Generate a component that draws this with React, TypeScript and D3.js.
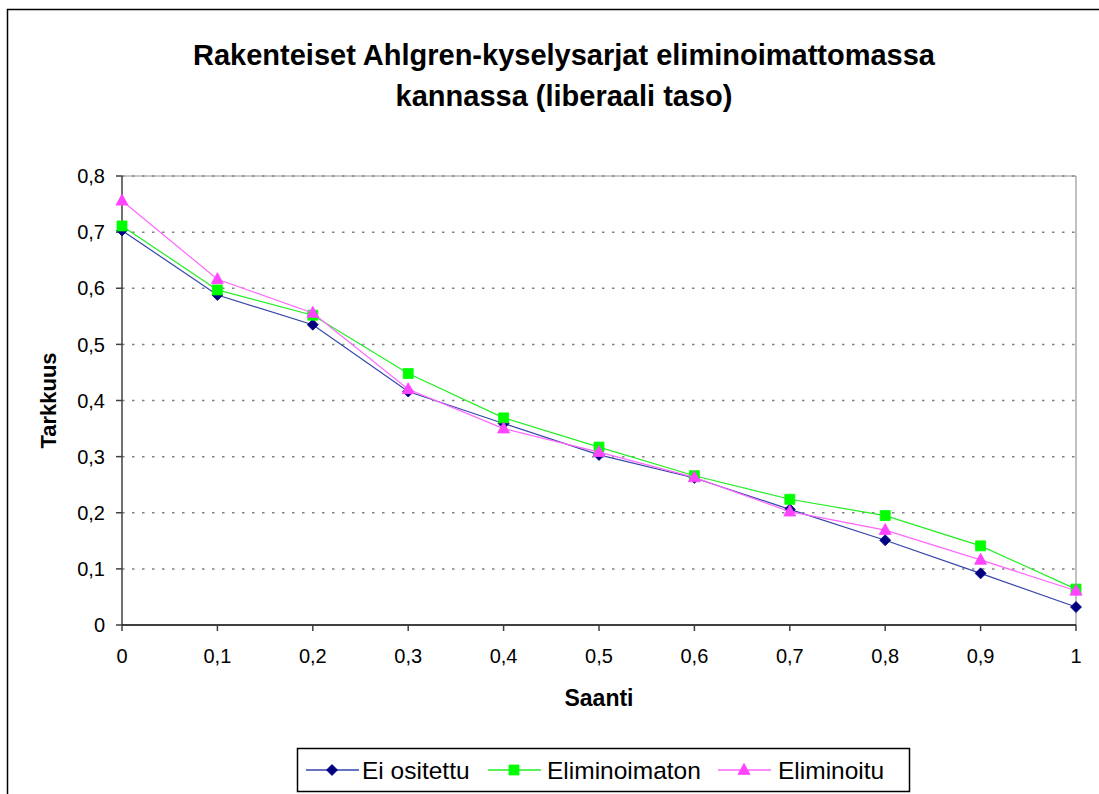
import React from "react";
import * as d3 from "d3";

const xValues = [0, 0.1, 0.2, 0.3, 0.4, 0.5, 0.6, 0.7, 0.8, 0.9, 1];
const eiOsitettu = [0.703, 0.588, 0.535, 0.416, 0.359, 0.303, 0.262, 0.206, 0.151, 0.092, 0.032];
const eliminoimaton = [0.711, 0.597, 0.552, 0.448, 0.369, 0.317, 0.266, 0.224, 0.195, 0.141, 0.064];
const eliminoitu = [0.756, 0.616, 0.556, 0.42, 0.35, 0.308, 0.263, 0.202, 0.169, 0.116, 0.061];
const yTicks = [0, 0.1, 0.2, 0.3, 0.4, 0.5, 0.6, 0.7, 0.8];
const seriesNames = ["Ei ositettu", "Eliminoimaton", "Eliminoitu"];
const titleLines = ["Rakenteiset Ahlgren-kyselysarjat eliminoimattomassa", "kannassa (liberaali taso)"];
const xTitle = "Saanti";
const yTitle = "Tarkkuus";

const W = 1099;
const H = 794;
const FONT = "'Liberation Sans', Arial, sans-serif";
const fmt = (v: number) => String(Math.round(v * 10) / 10).replace(".", ",");

type Shape = "diamond" | "square" | "triangle";

function markerPath(shape: Shape, cx: number, cy: number): string {
  if (shape === "diamond") {
    const r = 5.5;
    return `M${cx},${cy - r}L${cx + r},${cy}L${cx},${cy + r}L${cx - r},${cy}Z`;
  }
  if (shape === "square") {
    const r = 5;
    return `M${cx - r},${cy - r}H${cx + r}V${cy + r}H${cx - r}Z`;
  }
  const hw = 6;
  const h = 11;
  return `M${cx},${cy - h * 0.6}L${cx + hw},${cy + h * 0.4}L${cx - hw},${cy + h * 0.4}Z`;
}

export default function App() {
  const left = 122;
  const right = 1076;
  const top = 176;
  const bottom = 625;
  const x = d3.scaleLinear().domain([0, 1]).range([left, right]);
  const y = d3.scaleLinear().domain([0, 0.8]).range([bottom, top]);

  const series = [
    { name: seriesNames[0], values: eiOsitettu, line: "#3344aa", fill: "#000080", shape: "diamond" as Shape },
    { name: seriesNames[1], values: eliminoimaton, line: "#22ee22", fill: "#00ff00", shape: "square" as Shape },
    { name: seriesNames[2], values: eliminoitu, line: "#ff66ff", fill: "#ff44ff", shape: "triangle" as Shape },
  ];

  const lineGen = d3
    .line<number>()
    .x((_, i) => x(xValues[i]))
    .y((d) => y(d));

  const legendItems = [
    { lx: 306, tx: 362 },
    { lx: 488, tx: 547 },
    { lx: 718, tx: 778 },
  ];
  const legendY = 770;

  return (
    <svg width={W} height={H} style={{ position: "absolute", left: 0, top: 0, background: "#fff" }}>
      <rect x={0} y={0} width={W} height={H} fill="#fff" />
      {/* outer chart border */}
      <path d={`M7.5,${H + 5}V9.5H${W + 5}`} fill="none" stroke="#000" strokeWidth={1.5} />

      {/* title */}
      {titleLines.map((t, i) => (
        <text
          key={i}
          x={564}
          y={65 + i * 41}
          textAnchor="middle"
          fontFamily={FONT}
          fontWeight="bold"
          fontSize={29}
          fill="#000"
        >
          {t}
        </text>
      ))}

      {/* gridlines */}
      {yTicks.slice(1).map((t) => (
        <line
          key={t}
          x1={left}
          x2={right}
          y1={y(t)}
          y2={y(t)}
          stroke="#808080"
          strokeWidth={1.5}
          strokeDasharray="2.5,7.5"
        />
      ))}
      {/* plot border right/top */}
      <line x1={right} x2={right} y1={top} y2={bottom} stroke="#c0c0c0" strokeWidth={2} />
      <line x1={left} x2={right} y1={top} y2={top} stroke="#909090" strokeWidth={1} />

      {/* axes */}
      <line x1={left} x2={left} y1={top} y2={bottom} stroke="#404040" strokeWidth={1.5} />
      <line x1={left} x2={right} y1={bottom} y2={bottom} stroke="#000" strokeWidth={1.5} />
      {yTicks.map((t) => (
        <g key={t}>
          <line x1={left - 6} x2={left} y1={y(t)} y2={y(t)} stroke="#404040" strokeWidth={1.5} />
          <text
            x={left - 17}
            y={y(t)}
            dy="0.36em"
            textAnchor="end"
            fontFamily={FONT}
            fontSize={20}
            fill="#000"
          >
            {fmt(t)}
          </text>
        </g>
      ))}
      {xValues.map((v) => (
        <g key={v}>
          <line x1={x(v)} x2={x(v)} y1={bottom} y2={bottom + 6} stroke="#404040" strokeWidth={1.5} />
          <text
            x={x(v)}
            y={bottom + 31}
            dy="0.36em"
            textAnchor="middle"
            fontFamily={FONT}
            fontSize={20}
            fill="#000"
          >
            {fmt(v)}
          </text>
        </g>
      ))}

      {/* axis titles */}
      <text
        x={599}
        y={698}
        dy="0.36em"
        textAnchor="middle"
        fontFamily={FONT}
        fontWeight="bold"
        fontSize={23}
        fill="#000"
      >
        {xTitle}
      </text>
      <text
        transform={`translate(48,${(top + bottom) / 2}) rotate(-90)`}
        dy="0.36em"
        textAnchor="middle"
        fontFamily={FONT}
        fontWeight="bold"
        fontSize={22}
        fill="#000"
      >
        {yTitle}
      </text>

      {/* series */}
      {series.map((s) => (
        <g key={s.name}>
          <path d={lineGen(s.values) || ""} fill="none" stroke={s.line} strokeWidth={1.2} />
          {s.values.map((v, i) => (
            <path key={i} d={markerPath(s.shape, x(xValues[i]), y(v))} fill={s.fill} stroke={s.fill} strokeWidth={0.8} />
          ))}
        </g>
      ))}

      {/* legend */}
      <rect x={297.5} y={748.5} width={612} height={43} fill="#fff" stroke="#000" strokeWidth={1.5} />
      {series.map((s, i) => {
        const it = legendItems[i];
        const cx = it.lx + 26;
        return (
          <g key={s.name}>
            <line x1={it.lx} x2={it.lx + 53} y1={legendY} y2={legendY} stroke={s.line} strokeWidth={1.5} />
            <path d={markerPath(s.shape, cx, legendY)} fill={s.fill} stroke={s.fill} strokeWidth={0.8} />
            <text x={it.tx} y={legendY} dy="0.36em" fontFamily={FONT} fontSize={24.5} fill="#000">
              {s.name}
            </text>
          </g>
        );
      })}
    </svg>
  );
}
